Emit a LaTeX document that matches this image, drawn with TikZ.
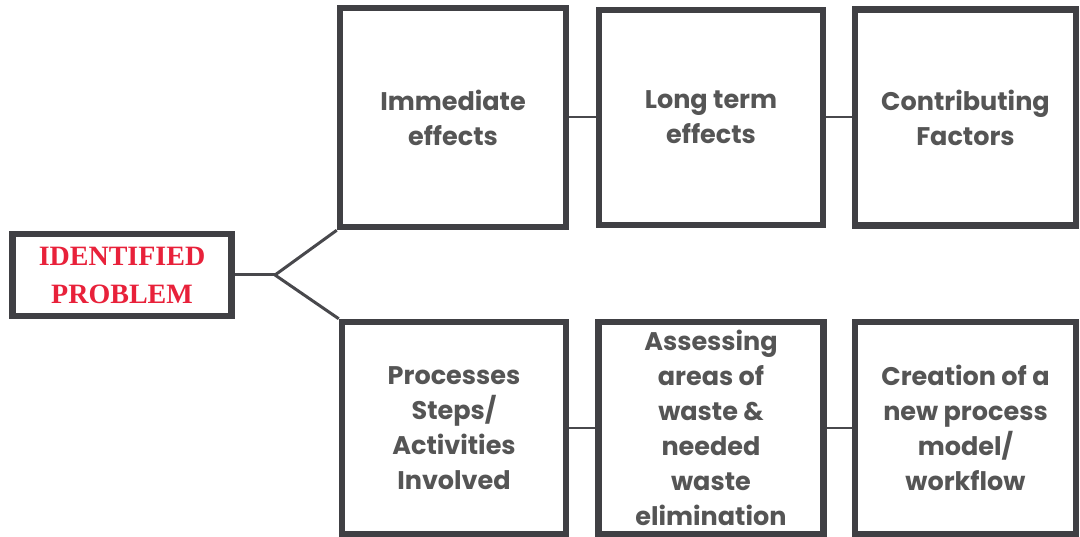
\documentclass[tikz,border=0pt]{standalone}
\usepackage{fontspec}
\usepackage{tikz}
\usetikzlibrary{positioning}
\newfontfamily\popfont{Poppins}
\newfontfamily\serfont{Liberation Serif}
\definecolor{box_gray}{RGB}{64,64,68}
\definecolor{txt_gray}{RGB}{85,85,85}
\definecolor{line_gray}{RGB}{72,72,76}
\definecolor{prob_red}{RGB}{232,33,58}
\tikzset{
    box/.style={
        draw=box_gray, line width=6.5pt, fill=white,
        text=txt_gray, align=center, inner sep=0pt,
        font=\popfont\bfseries\fontsize{25.5}{35}\selectfont
    },
    link/.style={draw=line_gray, line width=3pt},
    thinlink/.style={draw=line_gray, line width=2pt},
}

\begin{document}
\begin{tikzpicture}[x=1pt, y=-1pt]
    \useasboundingbox (0,0) rectangle (1080,537);
    % the problem on the left
    \node[
        draw=box_gray, line width=6.5pt, align=center, inner sep=0pt,
        minimum width=219pt, minimum height=82pt,
        text=prob_red, font=\serfont\bfseries\fontsize{28}{38}\selectfont
    ] (problem) at (122,275) {IDENTIFIED\\PROBLEM};
    % upper row
    \node[box, minimum width=226pt, minimum height=219pt]
        (immediate) at (453,117.5) {Immediate\\effects};
    \node[box, minimum width=224pt, minimum height=215pt]
        (longterm) at (711,117.5) {Long term\\effects};
    \node[box, minimum width=221pt, minimum height=216pt]
        (factors) at (965.5,117.5) {Contributing\\Factors};
    % lower row
    \node[box, minimum width=224pt, minimum height=212pt]
        (steps) at (454,428) {Processes\\Steps/\\Activities\\Involved};
    \node[box, minimum width=225pt, minimum height=212pt]
        (waste) at (711,428) {Assessing\\areas of\\waste \&\\needed\\waste\\elimination};
    \node[box, minimum width=221pt, minimum height=212pt]
        (newmodel) at (965.5,428) {Creation of a\\new process\\model/\\workflow};
    % connectors
    \coordinate (split) at (275,275);
    \draw[link] (problem.east) -- (split);
    \draw[link] (split) -- (immediate.south west);
    \draw[link] (split) -- (steps.north west);
    \draw[thinlink] (immediate.east) -- (longterm.west);
    \draw[thinlink] (longterm.east) -- (factors.west);
    \draw[thinlink] (steps.east) -- (waste.west);
    \draw[thinlink] (waste.east) -- (newmodel.west);
\end{tikzpicture}
\end{document}
